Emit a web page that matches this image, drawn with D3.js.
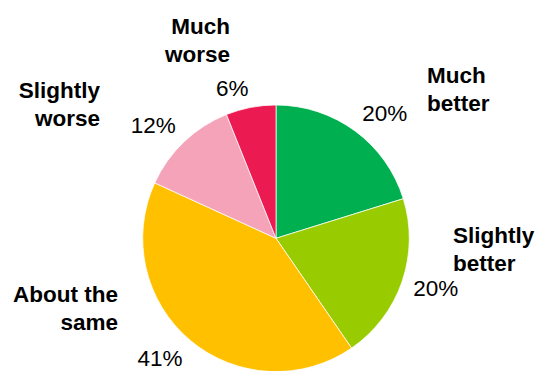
<!DOCTYPE html>
<html>
<head>
<meta charset="utf-8">
<script src="https://cdn.jsdelivr.net/npm/d3@7/dist/d3.min.js"></script>
<style>
  html, body { margin: 0; padding: 0; background: #fff; }
  svg { display: block; }
  text { font-family: "Liberation Sans", Arial, sans-serif; fill: #000; }
</style>
</head>
<body>
<svg id="chart" width="536" height="371"></svg>
<script>
// Survey answers, clockwise from 12 o'clock
const categories = ["Much better", "Slightly better", "About the same", "Slightly worse", "Much worse"];
const shares = [20, 20, 41, 12, 6];
const colors = ["#00B050", "#99CC00", "#FFC000", "#F4A3B9", "#EB1A50"];
// Category names split over two lines
const nameLines = [["Much", "better"], ["Slightly", "better"], ["About the", "same"], ["Slightly", "worse"], ["Much", "worse"]];

const W = 536, H = 371;
const cx = 276, cy = 238.3, R = 133.3;
const fontSize = 22.5, capH = 16, lineGap = 27.5;

const svg = d3.select("#chart");
const g = svg.append("g").attr("transform", `translate(${cx},${cy})`);

const pie = d3.pie().sort(null).value(d => d.value);
const arcs = pie(categories.map((c, i) => ({ name: c, value: shares[i], color: colors[i], lines: nameLines[i] })));
const arc = d3.arc().innerRadius(0).outerRadius(R);

g.selectAll("path.slice")
  .data(arcs)
  .join("path")
  .attr("class", "slice")
  .attr("d", arc)
  .attr("fill", d => d.data.color)
  .attr("stroke", "#fff")
  .attr("stroke-width", 0.75);

// Percentage labels sit just outside the rim, with the corner nearest the pie on the mid-angle
const labelR = R + 12;
g.selectAll("text.pct")
  .data(arcs)
  .join("text")
  .attr("class", "pct")
  .attr("font-size", fontSize)
  .each(function (d) {
    const a = (d.startAngle + d.endAngle) / 2;
    const s = Math.sin(a), c = Math.cos(a);
    const x = s * labelR, y = -c * labelR;
    d3.select(this)
      .attr("x", x)
      .attr("y", c >= 0 ? y : y + capH * Math.min(1, Math.abs(s) < 0.9 ? 1 : 0.65))
      .attr("text-anchor", s >= 0 ? "start" : "end")
      .text(d.value + "%");
  });

// Category names, placed further out beside each percentage
const nameSpots = {
  "Much better":    { dx: 151,  dy: -155, anchor: "start" },
  "Slightly better":{ dx: 177,  dy: 5,    anchor: "start" },
  "About the same": { dx: -158, dy: 64,   anchor: "end" },
  "Slightly worse": { dx: -176, dy: -140, anchor: "end" },
  "Much worse":     { dx: -46,  dy: -204, anchor: "end" }
};

const names = g.selectAll("text.name")
  .data(arcs)
  .join("text")
  .attr("class", "name")
  .attr("font-size", fontSize)
  .attr("font-weight", "bold")
  .attr("text-anchor", d => nameSpots[d.data.name].anchor);

names.selectAll("tspan")
  .data(d => d.data.lines.map((t, i) => ({ t, i, spot: nameSpots[d.data.name] })))
  .join("tspan")
  .attr("x", d => d.spot.dx)
  .attr("y", d => d.spot.dy + d.i * lineGap)
  .text(d => d.t);
</script>
</body>
</html>
